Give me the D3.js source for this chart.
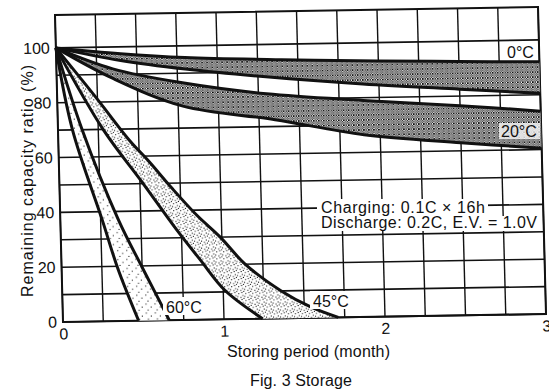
<!DOCTYPE html>
<html><head><meta charset="utf-8">
<script src="https://cdn.jsdelivr.net/npm/d3@7"></script>
<style>html,body{margin:0;padding:0;background:#fff;} svg{display:block;}</style>
</head><body>
<svg id="chart" width="549" height="392"></svg>
<script>
// ---- data (month, remaining capacity %) ----
const xTickValues = [0, 1, 2, 3];
const xTickLabels = ["0", "1", "2", "3"];
const yTickValues = [0, 20, 40, 60, 80, 100];
const yTickLabels = ["0", "20", "40", "60", "80", "100"];
const xGridMonths = [0, 0.25, 0.5, 0.75, 1, 1.25, 1.5, 1.75, 2, 2.25, 2.5, 2.75, 3];
const yGridValues = [0, 10, 20, 30, 40, 50, 60, 70, 80, 90, 100];

const c0Upper  = [[0,100],[0.4,97.5],[0.8,95.7],[1.4,94.3],[2,93.3],[2.5,92.6],[3,92]];
const c0Lower  = [[0,100],[0.4,95],[0.8,91.5],[1.3,88.2],[1.9,85],[2.5,82.5],[3,80.5]];
const c20Upper = [[0,100],[0.35,92],[0.78,86.5],[1.3,82],[1.9,79],[2.5,76.5],[3,74]];
const c20Lower = [[0,100],[0.35,88.5],[0.78,78],[1.35,72.5],[1.9,66.5],[2.5,63],[3,60.5]];
const c45Upper = [[0,100],[0.25,81],[0.44,66],[0.56,58],[0.7,48],[0.85,38],[0.99,30],[1.14,20],[1.36,10],[1.54,4],[1.71,0]];
const c45Lower = [[0,100],[0.28,70],[0.52,50],[0.72,33],[0.86,22],[1.01,10.6],[1.24,0]];
const c60Upper = [[0,100],[0.15,70],[0.36,37],[0.5,19.5],[0.59,8.6],[0.66,0]];
const c60Lower = [[0,100],[0.09,70],[0.26,37],[0.35,19],[0.47,0]];

const bandLabels = ["0°C", "20°C", "45°C", "60°C"];
const noteLines = ["Charging: 0.1C × 16h", "Discharge: 0.2C, E.V. = 1.0V"];
const yTitle = "Remaining capacity ratio (%)";
const xTitle = "Storing period (month)";
const figTitle = "Fig. 3 Storage";

// ---- drawing ----
const FONT = "'Liberation Sans', Arial, Helvetica, sans-serif";
const svg = d3.select("#chart");
svg.append("rect").attr("width",549).attr("height",392).attr("fill","#fff");

const defs = svg.append("defs");
function stipple(id, size, pts) {
  const p = defs.append("pattern").attr("id", id).attr("patternUnits","userSpaceOnUse")
    .attr("width", size).attr("height", size);
  p.append("rect").attr("width", size).attr("height", size).attr("fill", "#fff");
  pts.forEach(q => p.append("rect").attr("x", q[0]).attr("y", q[1]).attr("width", 1).attr("height", 1).attr("fill", "#000"));
}
stipple("dense", 5, [[0,0],[1,0],[3,0],[2,1],[4,1],[0,2],[1,2],[3,2],[4,3],[2,3],[0,4],[3,4],[1,4]]);
stipple("sparse", 7, [[1,1],[5,3],[3,5],[0,4],[4,0],[6,6]]);
stipple("vsparse", 9, [[2,2],[7,5],[4,8]]);

const W = 483, H = 307;
const x = d3.scaleLinear().domain([0, 3]).range([0, W]);
const y = d3.scaleLinear().domain([0, 112]).range([H, 0]);

// slight scan skew
const g = svg.append("g").attr("transform", `matrix(1,${-8/483},${8/307},1,55,15)`);

// grid
g.append("g").selectAll("line").data(xGridMonths).join("line")
  .attr("x1", d => x(d)).attr("x2", d => x(d)).attr("y1", 0).attr("y2", H)
  .attr("stroke", "#111").attr("stroke-width", 1.4);
g.append("g").selectAll("line").data(yGridValues).join("line")
  .attr("x1", 0).attr("x2", W).attr("y1", d => y(d)).attr("y2", d => y(d))
  .attr("stroke", "#111").attr("stroke-width", 1.6);
g.append("rect").attr("x", 0).attr("y", 0).attr("width", W).attr("height", H)
  .attr("fill", "none").attr("stroke", "#111").attr("stroke-width", 2);

// bands
const line = d3.line().x(d => x(d[0])).y(d => y(d[1])).curve(d3.curveCatmullRom.alpha(0.5));
function bandPath(up, lo) {
  const a = line(up);
  const b = line(lo.slice().reverse());
  return a + "L" + b.slice(1) + "Z";
}
const bands = [
  [c0Upper, c0Lower, "url(#dense)"],
  [c20Upper, c20Lower, "url(#dense)"],
  [c45Upper, c45Lower, "url(#sparse)"],
  [c60Upper, c60Lower, "url(#vsparse)"]
];
g.append("g").selectAll("path").data(bands).join("path")
  .attr("d", d => bandPath(d[0], d[1])).attr("fill", d => d[2]).attr("stroke", "none");

const curves = [c0Upper, c0Lower, c20Upper, c20Lower, c45Upper, c45Lower, c60Upper, c60Lower];
g.append("g").selectAll("path").data(curves).join("path")
  .attr("d", line).attr("fill", "none").attr("stroke", "#111")
  .attr("stroke-width", 3).attr("stroke-linejoin", "round");

// axes (labels only)
const ax = g.append("g").attr("transform", `translate(0,${H})`)
  .call(d3.axisBottom(x).tickValues(xTickValues).tickFormat((d,i) => xTickLabels[i]).tickSize(0).tickPadding(6));
const ay = g.append("g")
  .call(d3.axisLeft(y).tickValues(yTickValues).tickFormat((d,i) => yTickLabels[i]).tickSize(0).tickPadding(6));
[ax, ay].forEach(a => {
  a.select(".domain").remove();
  a.selectAll("text").attr("font-family", FONT).attr("font-size", 16).attr("fill", "#111");
});

// titles
svg.append("text").attr("transform", "translate(33,181) rotate(-90)")
  .attr("text-anchor", "middle").attr("font-family", FONT).attr("font-size", 16).attr("fill", "#111")
  .attr("textLength", 232).attr("lengthAdjust", "spacing").text(yTitle);
svg.append("text").attr("x", 227).attr("y", 357).attr("font-family", FONT).attr("font-size", 16)
  .attr("fill", "#111").attr("textLength", 163).attr("lengthAdjust", "spacing").text(xTitle);
svg.append("text").attr("x", 250).attr("y", 386).attr("font-family", FONT).attr("font-size", 16)
  .attr("fill", "#111").attr("textLength", 102).attr("lengthAdjust", "spacing").text(figTitle);

// note box
svg.append("rect").attr("x", 317).attr("y", 199).attr("width", 171).attr("height", 18).attr("fill", "#fff");
svg.append("rect").attr("x", 317).attr("y", 216).attr("width", 222).attr("height", 15).attr("fill", "#fff");
svg.append("text").attr("x", 321).attr("y", 213).attr("font-family", FONT).attr("font-size", 16)
  .attr("fill", "#111").attr("textLength", 164).attr("lengthAdjust", "spacing").text(noteLines[0]);
svg.append("text").attr("x", 321).attr("y", 228).attr("font-family", FONT).attr("font-size", 16)
  .attr("fill", "#111").attr("textLength", 216).attr("lengthAdjust", "spacing").text(noteLines[1]);

// band labels
const labelPos = [
  {x: 507, y: 58, bg: null},
  {x: 501, y: 137, bg: [499, 123, 41, 16, 0.75]},
  {x: 313, y: 307, bg: [310, 291, 42, 18, 1]},
  {x: 166, y: 313, bg: [163, 297, 42, 18, 1]}
];
labelPos.forEach((p, i) => {
  if (p.bg) svg.append("rect").attr("x", p.bg[0]).attr("y", p.bg[1]).attr("width", p.bg[2])
    .attr("height", p.bg[3]).attr("fill", "#fff").attr("opacity", p.bg[4]);
  svg.append("text").attr("x", p.x).attr("y", p.y).attr("font-family", FONT).attr("font-size", 16)
    .attr("fill", "#111").text(bandLabels[i]);
});
</script>
</body></html>
